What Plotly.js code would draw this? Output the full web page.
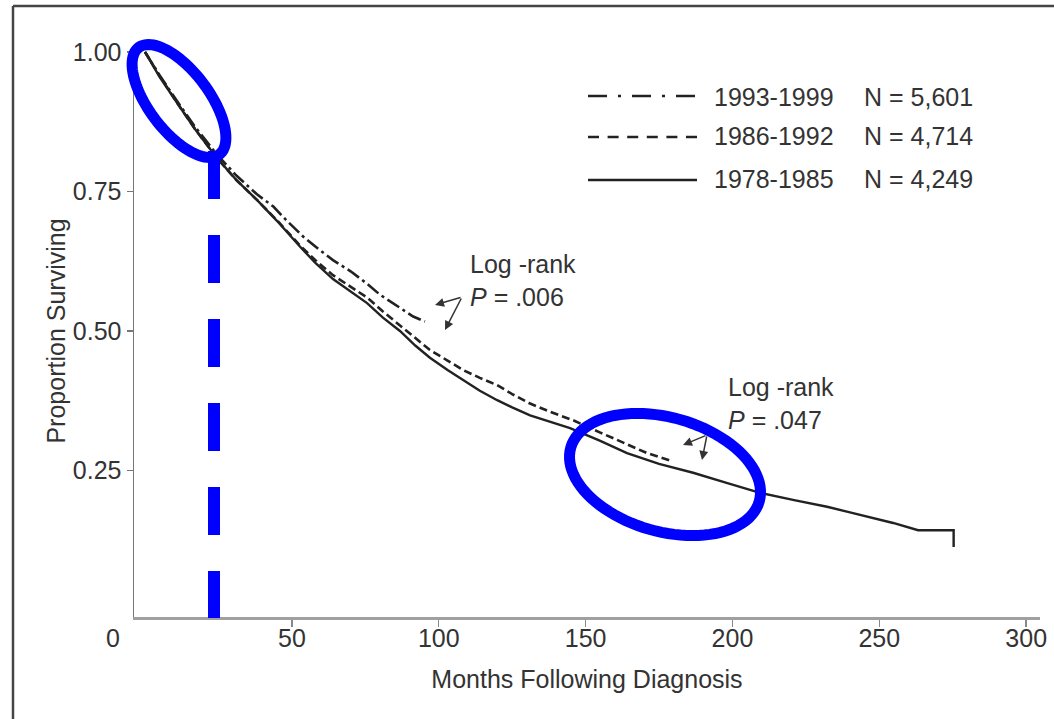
<!DOCTYPE html>
<html><head><meta charset="utf-8">
<script src="https://cdn.plot.ly/plotly-3.0.1.min.js"></script>
<style>html,body{margin:0;padding:0;background:#fff;} #chart{width:1054px;height:719px;}</style>
</head><body><div id="chart"></div>
<script>
// ---- data ----
const months1993 = [0, 5, 10.9, 17, 24.2, 31, 38.1, 43.7, 48, 53.9, 59, 64, 70, 75.5, 80, 83.5, 86.8, 91.3, 95.3];
const surv1993   = [1, 0.958, 0.912, 0.866, 0.818, 0.779, 0.745, 0.723, 0.699, 0.669, 0.647, 0.627, 0.607, 0.585, 0.565, 0.553, 0.541, 0.526, 0.517];

const months1986 = [0, 5, 10.9, 17, 24.2, 31, 38.1, 45, 52.8, 58, 64, 70, 75.6, 81, 86.8, 92, 97, 103, 108.3, 114, 119.9, 125, 131.1, 138, 145.8, 155, 164, 171, 178.8];
const surv1986   = [1, 0.957, 0.909, 0.862, 0.812, 0.771, 0.735, 0.698, 0.653, 0.627, 0.600, 0.580, 0.560, 0.535, 0.510, 0.487, 0.466, 0.447, 0.430, 0.416, 0.403, 0.387, 0.370, 0.355, 0.340, 0.318, 0.297, 0.281, 0.268];

const months1978 = [0, 5, 10.9, 17, 24.2, 31, 38.1, 45, 52.8, 58, 64, 70, 75.6, 81, 86.8, 92, 97, 103, 108.3, 114, 119.9, 125, 131.1, 138, 144.7, 155, 164.1, 175, 186.6, 198, 209.4, 221, 232.2, 240, 247.9, 254.7, 263.2, 275.3, 275.3];
const surv1978   = [1, 0.955, 0.909, 0.862, 0.812, 0.771, 0.735, 0.697, 0.651, 0.622, 0.593, 0.570, 0.550, 0.524, 0.500, 0.474, 0.452, 0.430, 0.412, 0.393, 0.376, 0.363, 0.349, 0.337, 0.326, 0.303, 0.281, 0.262, 0.246, 0.228, 0.210, 0.197, 0.185, 0.175, 0.165, 0.156, 0.143, 0.143, 0.113];

const seriesNames = ['1993-1999', '1986-1992', '1978-1985'];
const seriesN     = ['N = 5,601', 'N = 4,714', 'N = 4,249'];
const xTickVals   = [50, 100, 150, 200, 250, 300];
const yTickVals   = [0.25, 0.5, 0.75, 1.0];
const yTickText   = ['0.25', '0.50', '0.75', '1.00'];
const logRankTexts = ['Log -rank<br><i>P</i> = .006', 'Log -rank<br><i>P</i> = .047'];

// ---- geometry helpers ----
const W = 1054, H = 719, M = {l: 134, r: 14, t: 45, b: 102};
const PW = W - M.l - M.r, PH = H - M.t - M.b;
const px = x => (x - M.l) / PW;
const py = y => 1 - (y - M.t) / PH;
function ellipsePath(cx, cy, a, b, deg) {
  const r = deg * Math.PI / 180; const pts = [];
  for (let i = 0; i <= 96; i++) {
    const t = i / 96 * 2 * Math.PI;
    const ex = a * Math.cos(t), ey = b * Math.sin(t);
    const X = cx + ex * Math.cos(r) - ey * Math.sin(r);
    const Y = cy + ex * Math.sin(r) + ey * Math.cos(r);
    pts.push((i ? 'L' : 'M') + px(X).toFixed(5) + ',' + py(Y).toFixed(5));
  }
  return pts.join(' ') + ' Z';
}

const INK = '#222';
const TXT = '#333';
const FONT = '"Liberation Sans", Arial, Helvetica, sans-serif';
const FS = 25;

const traces = [
  {x: months1993, y: surv1993, name: seriesNames[0], mode: 'lines', line: {color: INK, width: 2.6, dash: '14px,4px,3px,4px'}, hoverinfo: 'skip'},
  {x: months1986, y: surv1986, name: seriesNames[1], mode: 'lines', line: {color: INK, width: 2.6, dash: '8px,4px'}, hoverinfo: 'skip'},
  {x: months1978, y: surv1978, name: seriesNames[2], mode: 'lines', line: {color: INK, width: 2.4}, hoverinfo: 'skip'}
];

const legendDash = ['19px,11px,3px,11px', '11px,8.6px', 'solid'];
const legendLineY = [96, 137, 180];
const legendTextY = [97, 136, 179];

const shapes = [];
// frame
shapes.push({type: 'line', xref: 'paper', yref: 'paper', x0: px(13), x1: px(13), y0: py(6), y1: py(719), line: {color: '#444', width: 2.5}});
shapes.push({type: 'line', xref: 'paper', yref: 'paper', x0: px(13), x1: px(1054), y0: py(6), y1: py(6), line: {color: '#444', width: 2.5}});
// legend samples
for (let i = 0; i < 3; i++) {
  shapes.push({type: 'line', xref: 'paper', yref: 'paper', x0: px(588), x1: px(697), y0: py(legendLineY[i]), y1: py(legendLineY[i]),
    line: {color: INK, width: 2.6, dash: legendDash[i]}});
}
// blue highlight marks
shapes.push({type: 'path', xref: 'paper', yref: 'paper', path: ellipsePath(179, 101, 67, 30, 53), line: {color: '#0000ff', width: 11}, layer: 'above'});
shapes.push({type: 'path', xref: 'paper', yref: 'paper', path: ellipsePath(665, 474.5, 98, 57, 16), line: {color: '#0000ff', width: 11}, layer: 'above'});
shapes.push({type: 'line', xref: 'paper', yref: 'paper', x0: px(214), x1: px(214), y0: py(151), y1: py(618), line: {color: '#0000ff', width: 12, dash: '48px,36px'}, layer: 'above'});

const annotations = [];
for (let i = 0; i < 3; i++) {
  annotations.push({xref: 'paper', yref: 'paper', x: px(712), y: py(legendTextY[i]), xanchor: 'left', yanchor: 'middle', text: seriesNames[i], showarrow: false, font: {size: FS, color: TXT, family: FONT}});
  annotations.push({xref: 'paper', yref: 'paper', x: px(862), y: py(legendTextY[i]), xanchor: 'left', yanchor: 'middle', text: seriesN[i], showarrow: false, font: {size: FS, color: TXT, family: FONT}});
}
annotations.push({xref: 'paper', yref: 'paper', x: px(468), y: py(280), xanchor: 'left', yanchor: 'middle', align: 'left', text: logRankTexts[0], showarrow: false, font: {size: FS, color: TXT, family: FONT}});
annotations.push({xref: 'paper', yref: 'paper', x: px(726), y: py(403), xanchor: 'left', yanchor: 'middle', align: 'left', text: logRankTexts[1], showarrow: false, font: {size: FS, color: TXT, family: FONT}});
// arrows (head in px, tail offset in px)
const arrows = [[435, 305, 27, -8], [445, 330, 17, -33], [683, 445, 24, -10], [702, 460, 5, -25]];
arrows.forEach(a => annotations.push({xref: 'paper', yref: 'paper', x: px(a[0]), y: py(a[1]), ax: a[2], ay: a[3], text: '', showarrow: true,
  arrowhead: 2, arrowsize: 1.2, arrowwidth: 1.5, arrowcolor: '#333', standoff: 0, startstandoff: 0}));
// misplaced "0" tick label
annotations.push({xref: 'paper', yref: 'paper', x: px(113), y: py(638), xanchor: 'center', yanchor: 'middle', text: '0', showarrow: false, font: {size: FS, color: TXT, family: FONT}});

const layout = {
  width: W, height: H, margin: M, paper_bgcolor: '#fff', plot_bgcolor: '#fff', showlegend: false,
  font: {family: FONT, size: FS, color: TXT},
  xaxis: {range: [-3.75, 304.7], tickvals: xTickVals, ticks: 'outside', ticklen: 7, tickwidth: 1.5, tickcolor: '#888',
    ticklabelstandoff: -10,
    showline: true, linecolor: '#a0a0a0', linewidth: 2.5, showgrid: false, zeroline: false,
    tickfont: {size: FS, color: TXT, family: FONT},
    title: {text: 'Months Following Diagnosis', font: {size: FS, color: TXT, family: FONT}, standoff: 20}},
  yaxis: {range: [-0.0125, 1.0125], tickvals: yTickVals, ticktext: yTickText, ticks: 'outside', ticklen: 6, tickwidth: 1.5, tickcolor: '#777',
    showline: true, linecolor: '#777', linewidth: 1.5, showgrid: false, zeroline: false,
    tickfont: {size: FS, color: TXT, family: FONT},
    title: {text: 'Proportion Surviving', font: {size: FS, color: TXT, family: FONT}, standoff: 0}},
  shapes: shapes, annotations: annotations
};

Plotly.newPlot('chart', traces, layout, {staticPlot: true, displayModeBar: false});
</script></body></html>
